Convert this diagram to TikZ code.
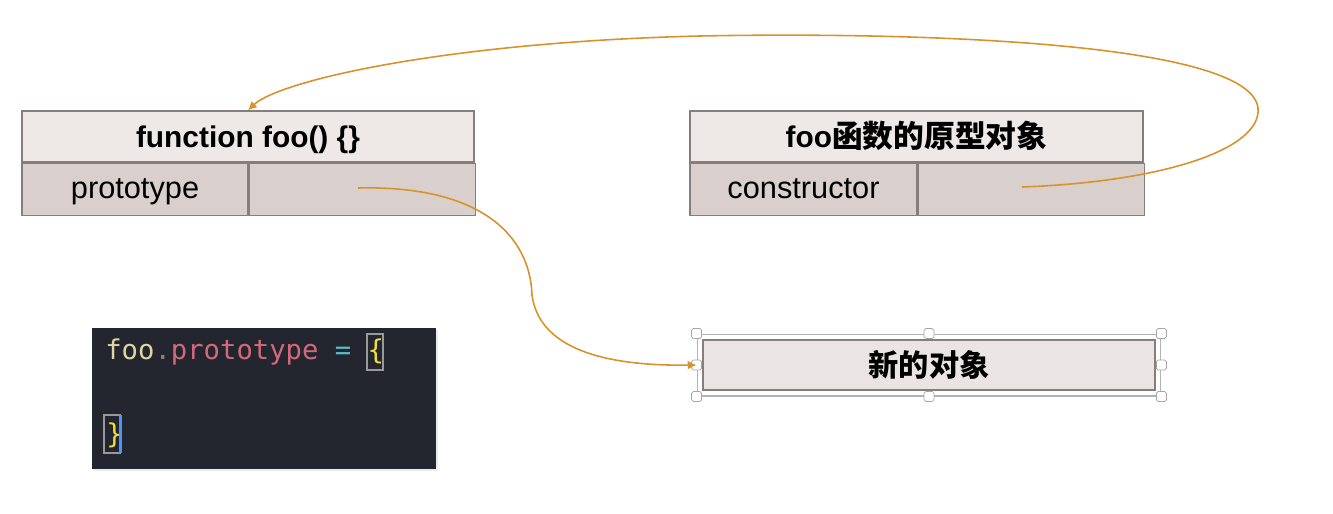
\documentclass[tikz,border=0pt]{standalone}
\usepackage{fontspec}
\setmainfont{Liberation Sans}
\newfontfamily\cjk{Noto Sans CJK SC}
\newfontfamily\codefont{DejaVu Sans Mono}
\usepackage{xcolor}
\usetikzlibrary{fit,shadows,arrows.meta}

\definecolor{boxline}{HTML}{877D7C}
\definecolor{headfill}{HTML}{EEE8E7}
\definecolor{rowfill}{HTML}{D9CFCC}
\definecolor{objfill}{HTML}{EAE5E4}
\definecolor{linkcol}{HTML}{D8922A}
\definecolor{codebg}{HTML}{23262E}
\definecolor{codefoo}{HTML}{DDD6A2}
\definecolor{codeprop}{HTML}{D4697C}
\definecolor{codeeq}{HTML}{5CB8C4}
\definecolor{codebrace}{HTML}{EEDD3A}

\tikzset{
  headcell/.style={draw=boxline, fill=headfill, line width=0.8pt, inner sep=0pt,
    minimum height=1.02cm, text height=13pt, text depth=1pt,
    font=\fontsize{17}{20}\selectfont\bfseries},
  rowcell/.style={draw=boxline, fill=rowfill, line width=0.8pt, inner sep=0pt,
    minimum height=1.04cm, text height=12.5pt, text depth=2pt, anchor=north west,
    font=\fontsize{17.5}{20}\selectfont},
  link/.style={draw=linkcol, line width=0.9pt, -{Latex[length=5pt,width=5pt]}},
  handle/.style={draw=gray!70, fill=white, rounded corners=1pt, inner sep=0pt,
    minimum size=0.2cm},
  codetxt/.style={inner sep=0pt, anchor=base west, font=\codefont\fontsize{15.5}{18}\selectfont}
}

\begin{document}
\begin{tikzpicture}[x=0.02cm, y=-0.02cm]
\useasboundingbox (0,0) rectangle (1333,514);

% function foo
\node[headcell, minimum width=9.04cm] (fnhead) at (248,136.5) {function foo() \{\}};
\node[rowcell, minimum width=4.52cm] (fnkey) at (fnhead.south west) {prototype};
\node[rowcell, minimum width=4.52cm] (fnval) at (fnkey.north east) {};

% prototype object
\node[headcell, minimum width=9.06cm] (protohead) at (916.5,136.5)
  {foo{\cjk\fontsize{17.5}{20}\selectfont 函数的原型对象}};
\node[rowcell, minimum width=4.54cm] (protokey) at (protohead.south west) {constructor};
\node[rowcell, minimum width=4.52cm] (protoval) at (protokey.north east) {};

% new object
\node[draw=boxline, fill=objfill, line width=0.8pt, minimum width=9.04cm, minimum height=1.0cm,
  inner sep=0pt, font=\cjk\fontsize{17.2}{20}\selectfont\bfseries] (newobj) at (929,365) {新的对象};
\node[draw=gray!60, line width=0.6pt, fit=(newobj), inner sep=3pt] (selbox) {};
\foreach \a in {north west,north,north east,east,south east,south,south west,west}
  \node[handle] at (selbox.\a) {};

% code
\node[fill=codebg, minimum width=6.88cm, minimum height=2.82cm, inner sep=0pt,
  drop shadow={opacity=0.15, shadow xshift=1pt, shadow yshift=-1pt}] (code) at (264,398.5) {};
\node[codetxt] (line1) at (105,359) {\textcolor{codefoo}{foo}\textcolor{gray}{.}\textcolor{codeprop}{prototype} \textcolor{codeeq}{=} \textcolor{codebrace}{\{}};
\draw[gray!80, line width=0.6pt] (367,334) rectangle (383,370);
\node[codetxt] (line3) at (106,443) {\textcolor{codebrace}{\}}};
\draw[gray!80, line width=0.6pt] (104,415) rectangle (120,453);
\fill[blue!60!cyan!70] (119,415) rectangle (122,453);

% links
\coordinate (protoptr) at (358,188);
\coordinate (ctorptr) at (1022,187);
\draw[link] (protoptr) .. controls (480,185) and (530,235) .. (532,295)
  .. controls (540,355) and (620,366) .. (selbox.west);
\draw[link] (ctorptr) .. controls (1160,182) and (1262,150) .. (1258,108)
  .. controls (1250,40) and (900,32) .. (700,36)
  .. controls (450,42) and (280,80) .. (fnhead.north);
\end{tikzpicture}
\end{document}
